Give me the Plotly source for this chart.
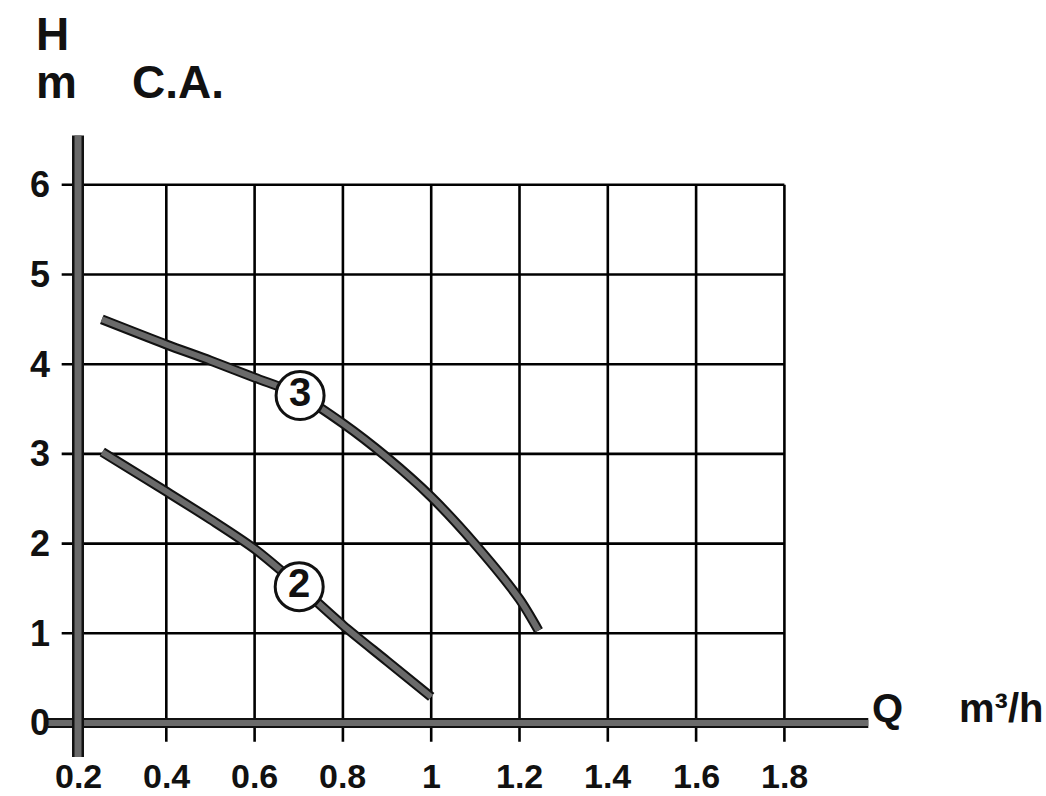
import plotly.graph_objects as go

# ---- data ----
x_ticks = [0.2, 0.4, 0.6, 0.8, 1.0, 1.2, 1.4, 1.6, 1.8]
x_tick_labels = ["0.2", "0.4", "0.6", "0.8", "1", "1.2", "1.4", "1.6", "1.8"]
y_ticks = [0, 1, 2, 3, 4, 5, 6]
y_tick_labels = ["0", "1", "2", "3", "4", "5", "6"]

curve3_q = [0.254, 0.4, 0.5, 0.6, 0.7, 0.8, 0.9, 1.0, 1.1, 1.2, 1.243]
curve3_h = [4.50, 4.22, 4.04, 3.85, 3.66, 3.34, 2.96, 2.52, 1.99, 1.38, 1.03]
curve2_q = [0.255, 0.4, 0.5, 0.6, 0.7, 0.8, 0.9, 1.0]
curve2_h = [3.02, 2.58, 2.27, 1.94, 1.53, 1.09, 0.69, 0.29]

label_names = ["3", "2"]
label_q = [0.703, 0.701]
label_h = [3.65, 1.52]

W, H = 1046, 796
X_RANGE = [0.0233, 2.3925]
Y_RANGE = [-0.814, 8.060]
FONT = "Liberation Sans, Arial, sans-serif"

fig = go.Figure()

# grid
gx, gy = [], []
for xv in x_ticks[1:]:
    gx += [xv, xv, None]
    gy += [-0.21, 6, None]
for yv in y_ticks[1:]:
    gx += [0.163, 1.8, None]
    gy += [yv, yv, None]
fig.add_trace(go.Scatter(x=gx, y=gy, mode="lines",
                         line=dict(color="#000000", width=2.6),
                         hoverinfo="skip", showlegend=False))


def thick(xs, ys, w_out, w_in, shape="linear"):
    fig.add_trace(go.Scatter(x=xs, y=ys, mode="lines",
                             line=dict(color="#111111", width=w_out, shape=shape,
                                       smoothing=0.8),
                             hoverinfo="skip", showlegend=False))
    fig.add_trace(go.Scatter(x=xs, y=ys, mode="lines",
                             line=dict(color="#6a6a6a", width=w_in, shape=shape,
                                       smoothing=0.8),
                             hoverinfo="skip", showlegend=False))


# thick axes
thick([0.131, 1.99], [0, 0], 10, 6)
thick([0.2, 0.2], [-0.38, 6.55], 12, 7)

# pump curves
thick(curve3_q, curve3_h, 10, 6, "spline")
thick(curve2_q, curve2_h, 10, 6, "spline")

# circled labels
fig.add_trace(go.Scatter(
    x=label_q, y=label_h, mode="markers+text", text=label_names,
    textposition="middle center",
    textfont=dict(family=FONT, size=40, color="#111111", weight="bold"),
    marker=dict(size=48, color="white", line=dict(color="#111111", width=3)),
    hoverinfo="skip", showlegend=False))

# tick labels
ann = []
for xv, t in zip(x_ticks, x_tick_labels):
    ann.append(dict(x=xv, y=-0.59, xref="x", yref="y", text=t, showarrow=False,
                    xanchor="center", yanchor="middle",
                    font=dict(family=FONT, size=34, color="#111111", weight="bold")))
for yv, t in zip(y_ticks, y_tick_labels):
    ann.append(dict(x=0.142, y=yv, xref="x", yref="y", text=t, showarrow=False,
                    xanchor="right", yanchor="middle",
                    font=dict(family=FONT, size=36, color="#111111", weight="bold")))

title_font = dict(family=FONT, size=46, color="#111111", weight="bold")
ann.append(dict(x=52 / W, y=1 - 34 / H, xref="paper", yref="paper", text="H",
                showarrow=False, xanchor="center", yanchor="middle", font=title_font))
ann.append(dict(x=56 / W, y=1 - 82 / H, xref="paper", yref="paper", text="m",
                showarrow=False, xanchor="center", yanchor="middle", font=title_font))
ann.append(dict(x=178 / W, y=1 - 82 / H, xref="paper", yref="paper", text="C.A.",
                showarrow=False, xanchor="center", yanchor="middle", font=title_font))
q_font = dict(family=FONT, size=40, color="#111111", weight="bold")
ann.append(dict(x=870 / W, y=1 - 708 / H, xref="paper", yref="paper", text="Q",
                showarrow=False, xanchor="left", yanchor="middle", font=q_font))
ann.append(dict(x=1045 / W, y=1 - 708 / H, xref="paper", yref="paper",
                text="m³/h",
                showarrow=False, xanchor="right", yanchor="middle", font=q_font))

fig.update_layout(
    width=W, height=H,
    margin=dict(l=0, r=0, t=0, b=0),
    paper_bgcolor="white", plot_bgcolor="white",
    xaxis=dict(range=X_RANGE, visible=False, showgrid=False, zeroline=False),
    yaxis=dict(range=Y_RANGE, visible=False, showgrid=False, zeroline=False),
    annotations=ann,
    showlegend=False,
)

fig.write_html("out.html")
